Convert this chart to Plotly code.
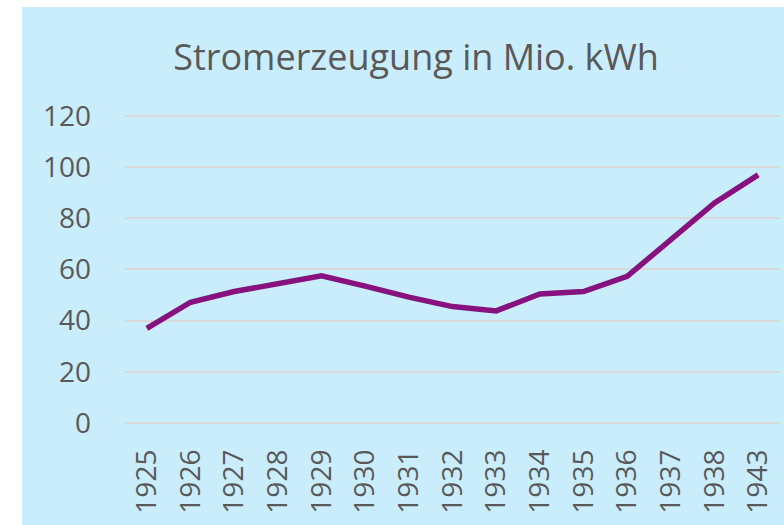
import plotly.graph_objects as go

# Stromerzeugung (Mio. kWh) je Jahr
years = ["1925", "1926", "1927", "1928", "1929", "1930", "1931", "1932",
         "1933", "1934", "1935", "1936", "1937", "1938", "1943"]
strom = [37.0, 47.2, 51.4, 54.2, 57.5, 53.5, 49.2, 45.5,
         43.8, 50.4, 51.4, 57.3, 71.5, 86.0, 97.0]

y_ticks = [0, 20, 40, 60, 80, 100, 120]

text_col = "#595959"
bg_blue = "#CAEDFB"
grid_col = "#D9D9D9"

fig = go.Figure()
fig.add_trace(go.Scatter(x=years, y=strom, mode="lines",
                         line=dict(color="#86117F", width=5.5),
                         showlegend=False))

# left: 125 px, top: 116 px, plot height 307, plot width 655
W, H = 784, 525
L, R, T, B = 125, 4, 115, 100
pw, ph = W - L - R, H - T - B
fig.add_shape(type="rect", xref="paper", yref="paper",
              x0=(22 - L) / pw, x1=(W - L) / pw,
              y0=-(B + 5) / ph, y1=(H - B - 7) / ph,
              fillcolor=bg_blue, line_width=0, layer="below")

fig.update_layout(
    width=W, height=H,
    margin=dict(l=L, r=R, t=T, b=B),
    paper_bgcolor="white",
    plot_bgcolor="rgba(0,0,0,0)",
    font=dict(family="Open Sans", color=text_col),
    title=dict(text="Stromerzeugung in Mio. kWh", x=(416 / W), xanchor="center",
               y=1 - 57 / H, yanchor="middle",
               font=dict(size=36, color=text_col)),
)
fig.update_xaxes(type="category", range=[-0.5, len(years) - 0.5],
                 tickangle=-90, showgrid=False,
                 showline=False, ticks="", tickfont=dict(size=28, color=text_col),
                 ticklabelstandoff=18)
fig.update_yaxes(range=[-0.8, 120.4], tickvals=y_ticks, showgrid=True,
                 gridcolor=grid_col, gridwidth=1.5,
                 zeroline=True, zerolinecolor=grid_col, zerolinewidth=1.5,
                 showline=False, ticks="", tickfont=dict(size=28, color=text_col),
                 ticklabelstandoff=33)

# page has a default body margin; drop it so the figure sits at 0,0
fig.write_html("out.html", config={"displayModeBar": False},
               post_script="document.body.style.margin='0';")
